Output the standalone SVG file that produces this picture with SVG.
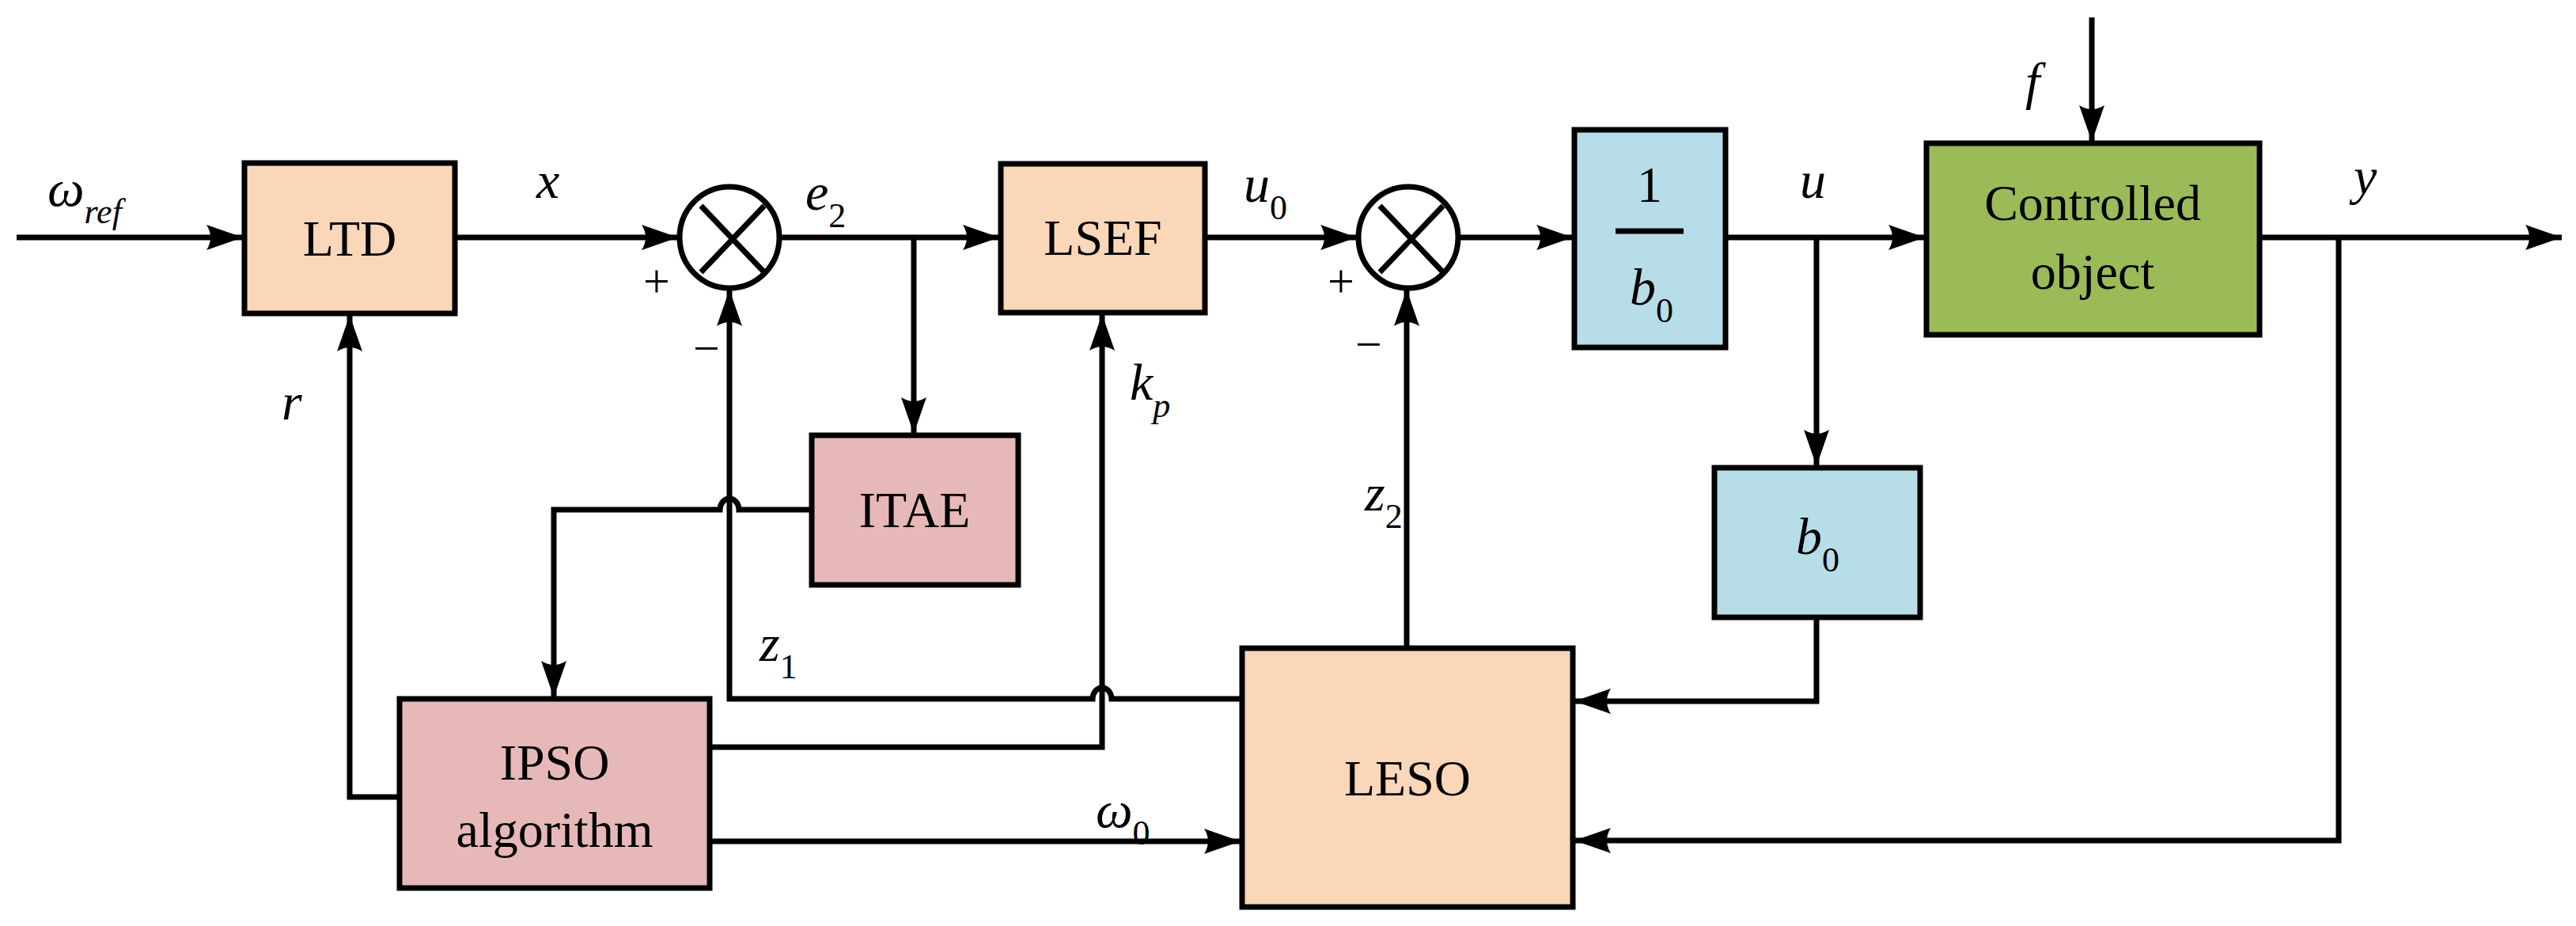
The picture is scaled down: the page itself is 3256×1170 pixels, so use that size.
<svg xmlns="http://www.w3.org/2000/svg" width="3256" height="1170" viewBox="0 0 3256 1170">
<style>
.b{stroke:#000;stroke-width:7}
.l{fill:none;stroke:#000;stroke-width:7;stroke-linejoin:miter}
.a{marker-end:url(#ar)}
.t{font-family:"Liberation Serif",serif;font-size:64px;text-anchor:middle}
.v{font-family:"Liberation Serif",serif;font-style:italic;font-size:66px}
.s{font-size:44px;font-style:normal}
.si{font-size:44px}
</style>
<defs>
<marker id="ar" markerUnits="userSpaceOnUse" markerWidth="50" markerHeight="40" refX="46" refY="20" orient="auto">
<path d="M0,4 L46,20 L0,36 Q10,20 0,4 Z" fill="#000"/>
</marker>
</defs>
<g id="LTD"><rect class="b" x="309" y="206" width="266" height="190" fill="#fad7b9"/><text class="t" x="442" y="323">LTD</text></g>
<g id="sum1"><ellipse class="b" cx="922" cy="300" rx="63" ry="64" fill="#fff"/><path class="l" d="M886,260 L966,344 M966,260 L886,344"/></g>
<g id="LSEF"><rect class="b" x="1265" y="207" width="258" height="188" fill="#fad7b9"/><text class="t" x="1394" y="322">LSEF</text></g>
<g id="sum2"><ellipse class="b" cx="1780" cy="300" rx="63" ry="64" fill="#fff"/><path class="l" d="M1744,260 L1824,344 M1824,260 L1744,344"/></g>
<g id="inv_b0"><rect class="b" x="1990" y="164" width="191" height="275" fill="#b7dde8"/><text class="t" x="2085" y="255">1</text><line class="b" x1="2042" y1="292" x2="2128" y2="292"/><text class="v" x="2060" y="385">b<tspan class="s" dy="22">0</tspan></text></g>
<g id="plant"><rect class="b" x="2435" y="181" width="421" height="242" fill="#9bbb59"/><text class="t" x="2645" y="278">Controlled</text><text class="t" x="2645" y="365">object</text></g>
<g id="b0"><rect class="b" x="2167" y="591" width="260" height="189" fill="#b7dde8"/><text class="v" x="2270" y="700">b<tspan class="s" dy="22">0</tspan></text></g>
<g id="ITAE"><rect class="b" x="1026" y="550" width="261" height="189" fill="#e6b9b8"/><text class="t" x="1156" y="666">ITAE</text></g>
<g id="IPSO"><rect class="b" x="505" y="883" width="392" height="239" fill="#e6b9b8"/><text class="t" x="701" y="985">IPSO</text><text class="t" x="701" y="1070">algorithm</text></g>
<g id="LESO"><rect class="b" x="1570" y="819" width="418" height="327" fill="#fad7b9"/><text class="t" x="1779" y="1005">LESO</text></g>
<g id="connectors">
<path class="l a" d="M21,300 H307"/>
<path class="l a" d="M575,300 H857"/>
<path class="l a" d="M985,300 H1263"/>
<path class="l a" d="M1155,300 V548"/>
<path class="l a" d="M1523,300 H1715"/>
<path class="l a" d="M1843,300 H1988"/>
<path class="l a" d="M2181,300 H2433"/>
<path class="l a" d="M2296,300 V589"/>
<path class="l a" d="M2644,22 V179"/>
<path class="l a" d="M2856,300 H3238"/>
<path class="l a" d="M2956,300 V1062 H1990"/>
<path class="l a" d="M2296,780 V886 H1990"/>
<path class="l a" d="M1778,819 V366"/>
<path class="l a" d="M1570,883 H1405 A12,14 0 0 0 1381,883 H922 V366"/>
<path class="l a" d="M1026,644 H934 A12,14 0 0 0 910,644 H700 V881"/>
<path class="l a" d="M505,1007 H442 V398"/>
<path class="l a" d="M897,944 H1393 V397"/>
<path class="l a" d="M897,1063 H1568"/>
</g>
<g id="labels">
<text class="v" x="60" y="260">ω<tspan class="si" dy="22">ref</tspan></text>
<text class="v" x="678" y="250">x</text>
<text class="v" x="1018" y="265">e<tspan class="s" dy="22">2</tspan></text>
<text class="v" x="1572" y="255">u<tspan class="s" dy="22">0</tspan></text>
<text class="v" x="2275" y="250">u</text>
<text class="v" x="2560" y="125">f</text>
<text class="v" x="2975" y="245">y</text>
<text class="v" x="356" y="530">r</text>
<text class="v" x="1428" y="505">k<tspan class="si" dy="22">p</tspan></text>
<text class="v" x="1725" y="645">z<tspan class="s" dy="22">2</tspan></text>
<text class="v" x="960" y="835">z<tspan class="s" dy="22">1</tspan></text>
<text class="v" x="1385" y="1045">ω<tspan class="s" dy="22">0</tspan></text>
<text class="t" x="830" y="375" style="font-size:60px">+</text>
<text class="t" x="893" y="460" style="font-size:60px">−</text>
<text class="t" x="1695" y="375" style="font-size:60px">+</text>
<text class="t" x="1730" y="455" style="font-size:60px">−</text>
</g>
</svg>
